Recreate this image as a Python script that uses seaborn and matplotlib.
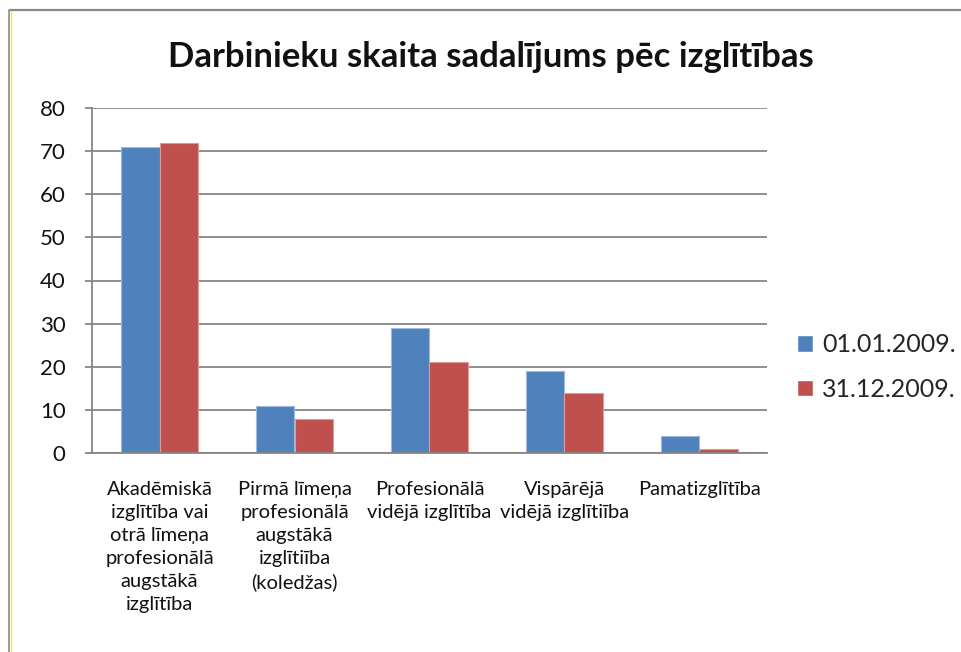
import pandas as pd
import matplotlib.pyplot as plt
import seaborn as sns
from matplotlib.lines import Line2D

# === DATA ===
categories = [
    "Akadēmiskā\nizglītība vai\notrā līmeņa\nprofesionālā\naugstākā\nizglītība",
    "Pirmā līmeņa\nprofesionālā\naugstākā\nizglītiība\n(koledžas)",
    "Profesionālā\nvidējā izglītība",
    "Vispārējā\nvidējā izglītiība",
    "Pamatizglītība",
]
series = ["01.01.2009.", "31.12.2009."]
start_2009 = [71, 11, 29, 19, 4]
end_2009 = [72, 8, 21, 14, 1]
y_ticks = [0, 10, 20, 30, 40, 50, 60, 70, 80]

df = pd.DataFrame({
    "kategorija": categories * 2,
    "datums": [series[0]] * len(categories) + [series[1]] * len(categories),
    "skaits": start_2009 + end_2009,
})

sns.set_style("white")
plt.rcParams['font.family'] = ['Lato', 'DejaVu Sans']

fig = plt.figure(figsize=(9.62, 6.52), dpi=100)
ax = fig.add_axes([92 / 962, 1 - 453 / 652, 675 / 962, 345 / 652])

colors = ["#4F81BD", "#C0504D"]
sns.barplot(data=df, x="kategorija", y="skaits", hue="datums", palette=colors,
            width=0.57, ax=ax, saturation=1, legend=True)
for patch, ec in zip(ax.patches, ["#9DB9DD"] * 5 + ["#E09A98"] * 5):
    patch.set_edgecolor(ec)
    patch.set_linewidth(0.8)

ax.set_ylim(0, 80)
ax.set_yticks(y_ticks)
ax.set_xlim(-0.5, len(categories) - 0.5)
ax.yaxis.grid(True, color="#868686", linewidth=1.3)
ax.set_axisbelow(True)
ax.set_xlabel("")
ax.set_ylabel("")

for side in ["top", "right"]:
    ax.spines[side].set_visible(False)
for side in ["left", "bottom"]:
    ax.spines[side].set_color("#868686")
    ax.spines[side].set_linewidth(1.3)

ax.tick_params(axis="y", labelsize=16, pad=14, length=5, color="#868686", width=1.3,
               left=True, labelcolor="#111111")
ax.tick_params(axis="x", labelsize=14.5, pad=20, length=0, labelcolor="#111111")
for lbl in ax.get_xticklabels():
    lbl.set_linespacing(1.43)
    lbl.set_verticalalignment("top")

leg = ax.legend(loc="center left", bbox_to_anchor=(797 / 962, 1 - 367 / 652),
                bbox_transform=fig.transFigure, frameon=False, fontsize=18,
                handlelength=0.65, handleheight=0.65, handletextpad=0.35,
                labelspacing=0.85, borderaxespad=0, borderpad=0)

fig.text(0.51, 1 - 57 / 652, "Darbinieku skaita sadalījums pēc izglītības",
         ha="center", va="center", fontsize=25, fontweight="bold", color="#111111")

# outer chart frame
fig.add_artist(Line2D([10 / 962, 1], [1 - 10 / 652] * 2, color="#8a8a8a", lw=1.6))
fig.add_artist(Line2D([9 / 962] * 2, [0, 1 - 10 / 652], color="#8a8a8a", lw=1.2))
fig.add_artist(Line2D([11 / 962] * 2, [0, 1 - 11 / 652], color="#f2f200", lw=1.0))

plt.savefig("out.png", dpi=100)
